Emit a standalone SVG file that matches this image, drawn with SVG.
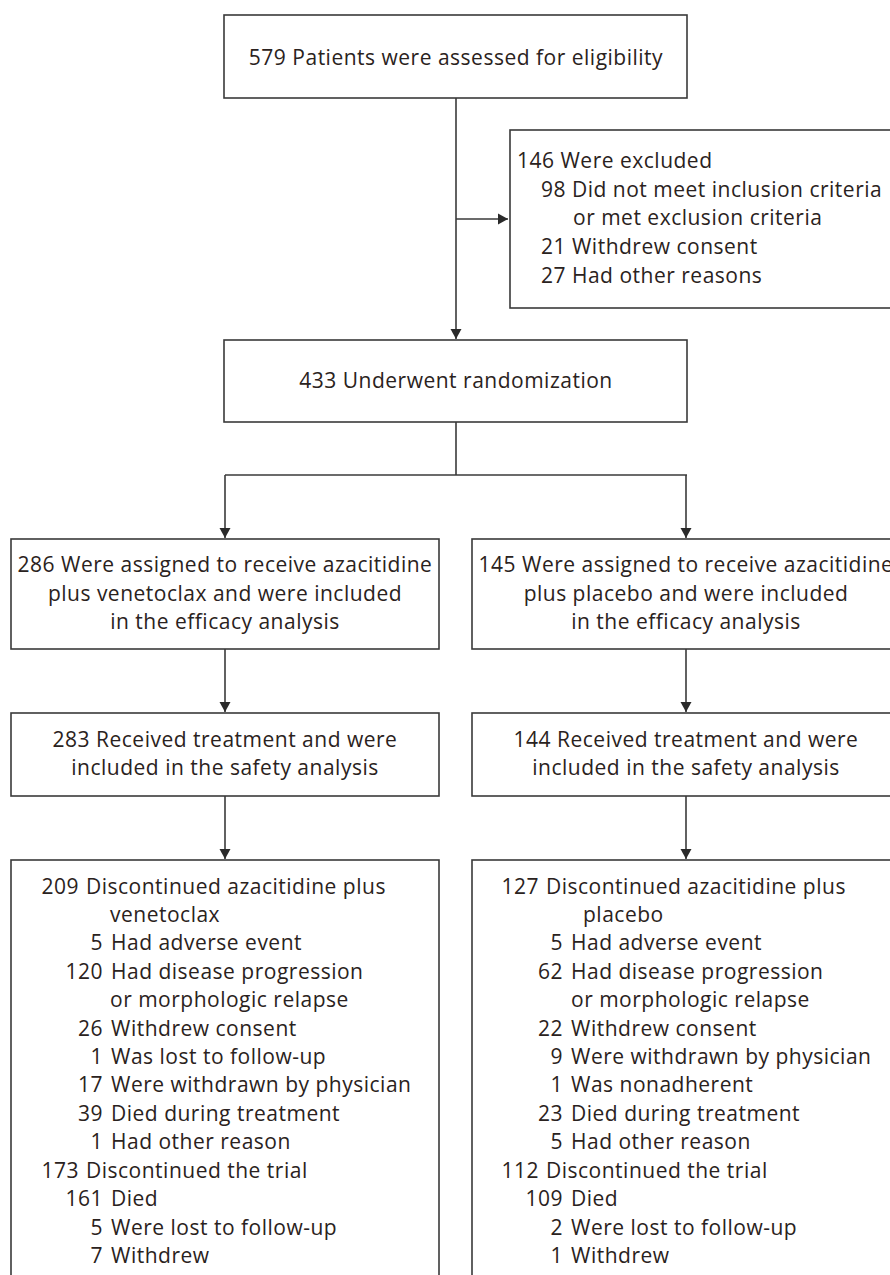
<svg xmlns="http://www.w3.org/2000/svg" width="890" height="1275" viewBox="0 0 890 1275">
<defs>
<style>
.box{fill:#fff;stroke:#3a3a3a;stroke-width:1.6}
.ln{fill:none;stroke:#3a3a3a;stroke-width:1.6}
text{font-family:"Open Sans","Noto Sans",sans-serif;font-size:21px;letter-spacing:0.5px;fill:#2a2220}
.c{text-anchor:middle}
.r{text-anchor:end}
</style>
<marker id="ah" markerUnits="userSpaceOnUse" markerWidth="10" markerHeight="14" viewBox="0 0 10 14" refX="10" refY="7" orient="auto">
<path d="M0,1.5 L10,7 L0,12.5 Z" fill="#2a2a2a"/>
</marker>
</defs>
<rect width="890" height="1275" fill="#fff"/>
<g id="connectors">
<line class="ln" x1="456" y1="98" x2="456" y2="339" marker-end="url(#ah)"/>
<line class="ln" x1="456" y1="219" x2="508" y2="219" marker-end="url(#ah)"/>
<polyline class="ln" points="456,422 456,475"/>
<line class="ln" x1="225" y1="475" x2="687" y2="475"/>
<line class="ln" x1="225" y1="475" x2="225" y2="538" marker-end="url(#ah)"/>
<line class="ln" x1="686" y1="475" x2="686" y2="538" marker-end="url(#ah)"/>
<line class="ln" x1="225" y1="649" x2="225" y2="712" marker-end="url(#ah)"/>
<line class="ln" x1="686" y1="649" x2="686" y2="712" marker-end="url(#ah)"/>
<line class="ln" x1="225" y1="796" x2="225" y2="859" marker-end="url(#ah)"/>
<line class="ln" x1="686" y1="796" x2="686" y2="859" marker-end="url(#ah)"/>
</g>
<g id="assessed">
<rect class="box" x="224" y="15" width="463" height="83"/>
<text class="c" x="456" y="65">579 Patients were assessed for eligibility</text>
</g>
<g id="excluded">
<rect class="box" x="510" y="130" width="390" height="178"/>
<text x="517" y="168">146 Were excluded</text>
<text x="541" y="197">98 Did not meet inclusion criteria</text>
<text x="573" y="225">or met exclusion criteria</text>
<text x="541" y="254">21 Withdrew consent</text>
<text x="541" y="283">27 Had other reasons</text>
</g>
<g id="randomization">
<rect class="box" x="224" y="340" width="463" height="82"/>
<text class="c" x="456" y="388">433 Underwent randomization</text>
</g>
<g id="assigned-ven">
<rect class="box" x="11" y="539" width="428" height="110"/>
<text class="c" x="225" y="572">286 Were assigned to receive azacitidine</text>
<text class="c" x="225" y="601">plus venetoclax and were included</text>
<text class="c" x="225" y="629">in the efficacy analysis</text>
</g>
<g id="assigned-pla">
<rect class="box" x="472" y="539" width="430" height="110"/>
<text class="c" x="686" y="572">145 Were assigned to receive azacitidine</text>
<text class="c" x="686" y="601">plus placebo and were included</text>
<text class="c" x="686" y="629">in the efficacy analysis</text>
</g>
<g id="safety-ven">
<rect class="box" x="11" y="713" width="428" height="83"/>
<text class="c" x="225" y="747">283 Received treatment and were</text>
<text class="c" x="225" y="775">included in the safety analysis</text>
</g>
<g id="safety-pla">
<rect class="box" x="472" y="713" width="430" height="83"/>
<text class="c" x="686" y="747">144 Received treatment and were</text>
<text class="c" x="686" y="775">included in the safety analysis</text>
</g>
<g id="disc-ven">
<rect class="box" x="11" y="860" width="428" height="430"/>
<text class="r" x="79" y="894">209</text><text x="86" y="894">Discontinued azacitidine plus</text>
<text x="110" y="922">venetoclax</text>
<text class="r" x="103" y="950">5</text><text x="111" y="950">Had adverse event</text>
<text class="r" x="103" y="979">120</text><text x="111" y="979">Had disease progression</text>
<text x="110" y="1007">or morphologic relapse</text>
<text class="r" x="103" y="1036">26</text><text x="111" y="1036">Withdrew consent</text>
<text class="r" x="103" y="1064">1</text><text x="111" y="1064">Was lost to follow-up</text>
<text class="r" x="103" y="1092">17</text><text x="111" y="1092">Were withdrawn by physician</text>
<text class="r" x="103" y="1121">39</text><text x="111" y="1121">Died during treatment</text>
<text class="r" x="103" y="1149">1</text><text x="111" y="1149">Had other reason</text>
<text class="r" x="79" y="1178">173</text><text x="86" y="1178">Discontinued the trial</text>
<text class="r" x="103" y="1206">161</text><text x="111" y="1206">Died</text>
<text class="r" x="103" y="1235">5</text><text x="111" y="1235">Were lost to follow-up</text>
<text class="r" x="103" y="1263">7</text><text x="111" y="1263">Withdrew</text>
</g>
<g id="disc-pla">
<rect class="box" x="472" y="860" width="430" height="430"/>
<text class="r" x="539" y="894">127</text><text x="546" y="894">Discontinued azacitidine plus</text>
<text x="583" y="922">placebo</text>
<text class="r" x="563" y="950">5</text><text x="571" y="950">Had adverse event</text>
<text class="r" x="563" y="979">62</text><text x="571" y="979">Had disease progression</text>
<text x="571" y="1007">or morphologic relapse</text>
<text class="r" x="563" y="1036">22</text><text x="571" y="1036">Withdrew consent</text>
<text class="r" x="563" y="1064">9</text><text x="571" y="1064">Were withdrawn by physician</text>
<text class="r" x="563" y="1092">1</text><text x="571" y="1092">Was nonadherent</text>
<text class="r" x="563" y="1121">23</text><text x="571" y="1121">Died during treatment</text>
<text class="r" x="563" y="1149">5</text><text x="571" y="1149">Had other reason</text>
<text class="r" x="539" y="1178">112</text><text x="546" y="1178">Discontinued the trial</text>
<text class="r" x="563" y="1206">109</text><text x="571" y="1206">Died</text>
<text class="r" x="563" y="1235">2</text><text x="571" y="1235">Were lost to follow-up</text>
<text class="r" x="563" y="1263">1</text><text x="571" y="1263">Withdrew</text>
</g>
</svg>
